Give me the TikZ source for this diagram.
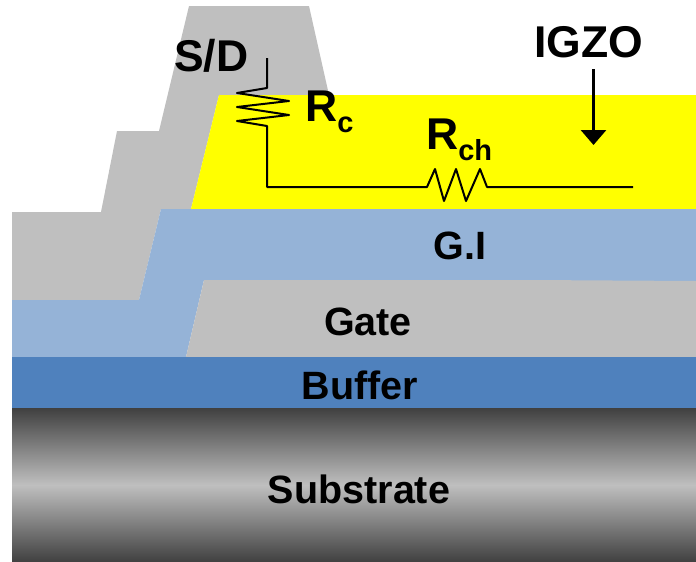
\documentclass[tikz,border=0pt]{standalone}
\usepackage{fontspec}
\setmainfont{Liberation Sans}
\usetikzlibrary{arrows.meta,positioning}
\definecolor{metal}{HTML}{BFBFBF}
\definecolor{gi}{HTML}{95B3D7}
\definecolor{buffer}{HTML}{4F81BD}
\definecolor{igzoyellow}{HTML}{FFFF00}
\definecolor{subdark}{HTML}{404040}
\newcommand{\rsub}[1]{R\raisebox{-11pt}{\fontsize{29}{29}\selectfont\bfseries #1}}
\begin{document}
\begin{tikzpicture}[x=1pt,y=-1pt,
t/.style={inner sep=0pt,font=\fontsize{39.5}{40}\selectfont\bfseries},
big/.style={inner sep=0pt,anchor=base west,font=\fontsize{44.5}{45}\selectfont\bfseries},
w/.style={line width=2pt,line join=round},
a/.style={-{Triangle[length=15pt,width=25pt]},line width=3pt}]
\useasboundingbox (0,0) rectangle (696,562);
% layers
\fill[metal](189,6)--(309,6)--(329,95)--(219,95)--(191,209)--(161,209)--(139,300)--(12,300)--(12,212)--(101,212)--(117,131)--(159,131)--cycle;
\fill[igzoyellow](219,95)--(696,95)--(696,209)--(191,209)--cycle;
\fill[gi](161,209)--(696,209)--(696,281)--(204,280)--(186,357)--(12,357)--(12,300)--(139,300)--cycle;
\fill[metal](204,280)--(530,280)--(696,281)--(696,357)--(186,357)--cycle;
\fill[buffer](12,357)rectangle(696,408);
\shade[top color=subdark,bottom color=subdark,middle color=metal](12,408)rectangle(696,562);
% labels
\node[big](sd) at (174,71){S/D};
\node[big](igzo) at (534,57){IGZO};
\node[big](rc) at (305,121){\rsub{c}};
\node[big](rch) at (426,149){\rsub{ch}};
\node[t](gilabel) at (460,246){G.I};
\node[t](gate) at (368,322){Gate};
\node[t](buf) at (360,385){Buffer};
\node[t](sub) at (359,489){Substrate};
% resistors
\coordinate(wtop) at (267,58);
\coordinate(wend) at (633,187);
\draw[w](wtop)--(267,88)--(237,93)--(289,101)--(237,107)--(289,115)--(237,121)--(267,126)--(267,187)--(427,187)--(435,169)--(444,201)--(456,169)--(466,201)--(480,169)--(487,187)--(wend);
% arrow
\coordinate(atail) at (593.5,69);
\coordinate(tip) at (593.5,145);
\draw[a](atail)--(tip);
\end{tikzpicture}
\end{document}
